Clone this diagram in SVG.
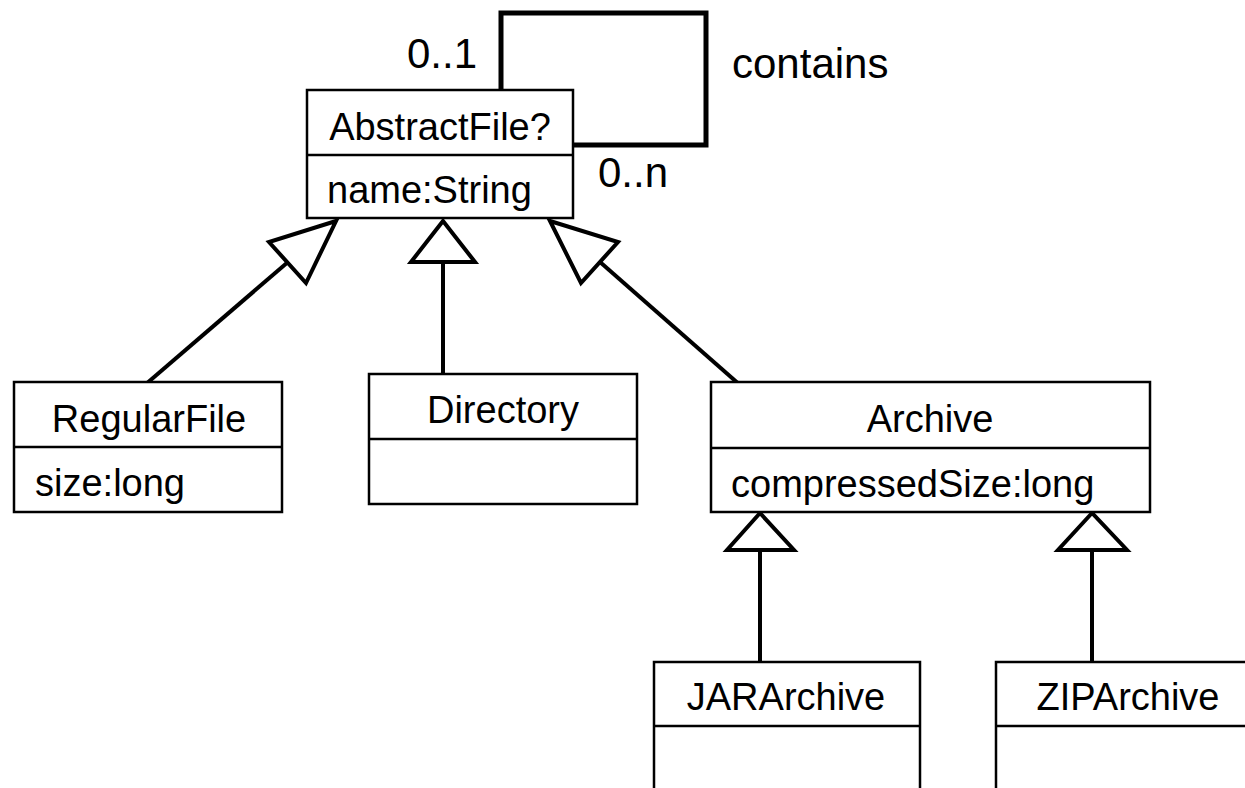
<svg xmlns="http://www.w3.org/2000/svg" width="1245" height="788" viewBox="0 0 1245 788">
  <style>
    .box { fill: #ffffff; stroke: #000000; stroke-width: 2.5; }
    .sep { stroke: #000000; stroke-width: 2.5; }
    .name { font-family: "Liberation Sans", Arial, sans-serif; font-size: 38px; fill: #000000; text-anchor: middle; }
    .attr { font-family: "Liberation Sans", Arial, sans-serif; font-size: 38px; fill: #000000; }
    .label { font-family: "Liberation Sans", Arial, sans-serif; font-size: 42px; fill: #000000; }
    .edge { fill: none; stroke: #000000; stroke-width: 4; }
    .head { fill: #ffffff; stroke: #000000; stroke-width: 4; stroke-linejoin: miter; }
    .assoc { fill: none; stroke: #000000; stroke-width: 5; stroke-linejoin: miter; }
  </style>
  <rect width="1245" height="788" fill="#ffffff"/>

  <!-- generalisation and association connectors -->
  <g id="connectors">
    <!-- self association "contains" -->
    <path class="assoc" d="M 501 90 V 13 H 706 V 145 H 573"/>
    <text class="label" x="407" y="68">0..1</text>
    <text class="label" x="598" y="187">0..n</text>
    <text class="label" x="732" y="78">contains</text>

    <!-- RegularFile -> AbstractFile -->
    <line class="edge" x1="146" y1="384" x2="288" y2="262"/>
    <polygon class="head" points="336,221 269,242 306,283"/>
    <!-- Directory -> AbstractFile -->
    <line class="edge" x1="443" y1="374" x2="443" y2="262"/>
    <polygon class="head" points="443,221 411,262 475,262"/>
    <!-- Archive -> AbstractFile -->
    <line class="edge" x1="740" y1="385" x2="600" y2="262"/>
    <polygon class="head" points="550,221 618,242 581,283"/>
    <!-- JARArchive -> Archive -->
    <line class="edge" x1="760" y1="662" x2="760" y2="550"/>
    <polygon class="head" points="760,513 727,550 794,550"/>
    <!-- ZIPArchive -> Archive -->
    <line class="edge" x1="1092" y1="662" x2="1092" y2="550"/>
    <polygon class="head" points="1092,513 1058,550 1127,550"/>
  </g>

  <g id="AbstractFile">
    <rect class="box" x="307" y="90" width="266" height="128"/>
    <line class="sep" x1="307" y1="155" x2="573" y2="155"/>
    <text class="name" x="440" y="140">AbstractFile?</text>
    <text class="attr" x="327" y="203">name:String</text>
  </g>

  <g id="RegularFile">
    <rect class="box" x="14" y="382" width="268" height="130"/>
    <line class="sep" x1="14" y1="447" x2="282" y2="447"/>
    <text class="name" x="149" y="432">RegularFile</text>
    <text class="attr" x="35" y="496">size:long</text>
  </g>

  <g id="Directory">
    <rect class="box" x="369" y="374" width="268" height="130"/>
    <line class="sep" x1="369" y1="439" x2="637" y2="439"/>
    <text class="name" x="503" y="423">Directory</text>
  </g>

  <g id="Archive">
    <rect class="box" x="711" y="382" width="439" height="130"/>
    <line class="sep" x1="711" y1="448" x2="1150" y2="448"/>
    <text class="name" x="930" y="432">Archive</text>
    <text class="attr" x="731" y="497">compressedSize:long</text>
  </g>

  <g id="JARArchive">
    <rect class="box" x="654" y="662" width="266" height="150"/>
    <line class="sep" x1="654" y1="726" x2="920" y2="726"/>
    <text class="name" x="786" y="710">JARArchive</text>
  </g>

  <g id="ZIPArchive">
    <rect class="box" x="996" y="662" width="264" height="150"/>
    <line class="sep" x1="996" y1="726" x2="1260" y2="726"/>
    <text class="name" x="1128" y="710">ZIPArchive</text>
  </g>
</svg>
